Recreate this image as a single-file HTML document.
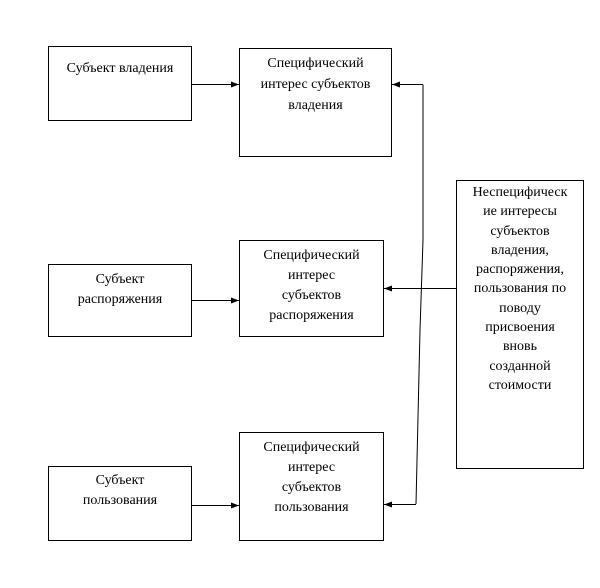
<!DOCTYPE html>
<html><head><meta charset="utf-8"><style>
body{margin:0;background:#fff;width:600px;height:588px;position:relative;overflow:hidden;font-family:"Liberation Serif","DejaVu Serif","Times New Roman",serif;font-size:14px;color:#000}
.b{position:absolute;border:1px solid #000;box-sizing:border-box;text-align:center;line-height:20px;padding-top:9px;font-family:"Liberation Serif","DejaVu Serif",serif}
svg{position:absolute;left:0;top:0}
</style></head><body>
<div class="b" style="left:48px;top:46px;width:144px;height:75px;padding-top:12px">Субъект владения</div>
<div class="b" style="left:239px;top:48px;width:153px;height:109px;padding-top:4px;line-height:21px">Специфический<br>интерес субъектов<br>владения</div>
<div class="b" style="left:48px;top:264px;width:144px;height:73px;padding-top:5px">Субъект<br>распоряжения</div>
<div class="b" style="left:239px;top:240px;width:145px;height:97px;padding-top:5px">Специфический<br>интерес<br>субъектов<br>распоряжения</div>
<div class="b" style="left:48px;top:466px;width:144px;height:75px;padding-top:4px">Субъект<br>пользования</div>
<div class="b" style="left:239px;top:432px;width:145px;height:109px;padding-top:5px">Специфический<br>интерес<br>субъектов<br>пользования</div>
<div class="b" style="left:456px;top:180px;width:128px;height:289px;padding-top:2px;line-height:19.3px">Неспецифическ<br>ие интересы<br>субъектов<br>владения,<br>распоряжения,<br>пользования по<br>поводу<br>присвоения<br>вновь<br>созданной<br>стоимости</div>
<svg width="600" height="588">
<defs><marker id="a" markerWidth="8" markerHeight="6" refX="8" refY="3" orient="auto" markerUnits="userSpaceOnUse"><path d="M0,0L8,3L0,6z"/></marker></defs>
<g stroke="#000" stroke-width="1" fill="none">
<line x1="192" y1="84.5" x2="239" y2="84.5" marker-end="url(#a)"/>
<line x1="192" y1="300.5" x2="239" y2="300.5" marker-end="url(#a)"/>
<line x1="192" y1="505.5" x2="239" y2="505.5" marker-end="url(#a)"/>
<polyline points="423,84.5 423,240 420,330 416,504"/>
<line x1="423" y1="84.5" x2="392" y2="84.5" marker-end="url(#a)"/>
<line x1="456" y1="288.5" x2="384" y2="288.5" marker-end="url(#a)"/>
<line x1="416" y1="504.5" x2="384" y2="504.5" marker-end="url(#a)"/>
</g></svg>
</body></html>
